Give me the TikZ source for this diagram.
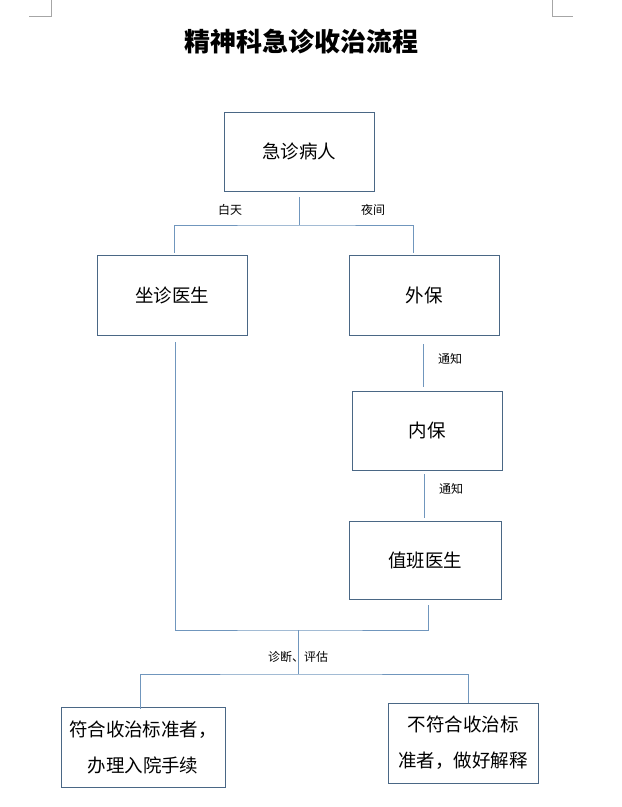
\documentclass[tikz,border=0pt]{standalone}
\usepackage{fontspec}
\setmainfont{Noto Sans CJK SC}
\usepackage{tikz}
\usetikzlibrary{calc, positioning}
\usepackage{xcolor}
\definecolor{boxline}{HTML}{4A6785}
\definecolor{linkblue}{HTML}{7096BD}

\begin{document}
\begin{tikzpicture}[
    x=1pt, y=-1pt,
    every node/.style = {inner sep=0pt},
    stepbox/.style = {draw=boxline, line width=0.9pt, rectangle, minimum width=150pt,
                      minimum height=79pt, align=center,
                      font=\fontsize{18.5}{36}\selectfont},
    tag/.style  = {font=\fontsize{12}{14}\selectfont},
    link/.style = {draw=linkblue, line width=0.9pt},
    crop/.style = {draw=gray!70, line width=0.7pt},
]
\useasboundingbox (0,0) rectangle (622,807);

% page corner marks
\draw[crop] (51,0) -- (51,16) -- (29,16);
\draw[crop] (552,0) -- (552,16) -- (573,16);

% title
\node[font=\fontsize{26}{30}\selectfont\bfseries] (title) at (301,42) {精神科急诊收治流程};

% boxes
\node[stepbox] (patient) at (299,151.5) {急诊病人};
\node[stepbox, minimum height=80pt] (clinic) at (172,295) {坐诊医生};
\node[stepbox, minimum height=80pt] (outer) at (424,295) {外保};
\node[stepbox] (inner) at (427,430.5) {内保};
\node[stepbox, minimum width=152pt, minimum height=78pt] (duty) at (425,560) {值班医生};
\node[stepbox, minimum width=164pt, minimum height=80pt] (admit) at (143,747)
     {符合收治标准者，\\办理入院手续};
\node[stepbox, minimum height=80pt] (refuse) at (463,743)
     {不符合收治标\\准者，做好解释};

% junctions
\coordinate (fork1) at (299,225);
\coordinate (fork2) at (298,630);
\coordinate (fork3) at (298,674);

% day / night
\draw[link] ([yshift=-6pt]patient.south) -- (fork1);
\draw[link] ([xshift=2pt,yshift=2pt]clinic.north) |- (fork1) -| ([xshift=-11pt,yshift=2pt]outer.north);
\node[tag] (day) at (230,210) {白天};
\node[tag] (night) at (373,210) {夜间};

% night chain
\draw[link] ([xshift=-1pt,yshift=-9pt]outer.south) -- ([xshift=-4pt,yshift=4pt]inner.north);
\node[tag] (call1) at (450,359) {通知};
\draw[link] ([xshift=-3pt,yshift=-4pt]inner.south) -- ([xshift=-1pt,yshift=3pt]duty.north);
\node[tag] (call2) at (451,489) {通知};

% merge and assess
\draw[link] ([xshift=3pt,yshift=-7pt]clinic.south) |- (fork2) -| ([xshift=3pt,yshift=-6pt]duty.south);
\draw[link] (fork2) -- (fork3);
\node[tag] (assess) at (298,657) {诊断、评估};
\draw[link] ([xshift=-3pt,yshift=-2pt]admit.north) |- (fork3) -| ([xshift=5pt]refuse.north);
\end{tikzpicture}
\end{document}
